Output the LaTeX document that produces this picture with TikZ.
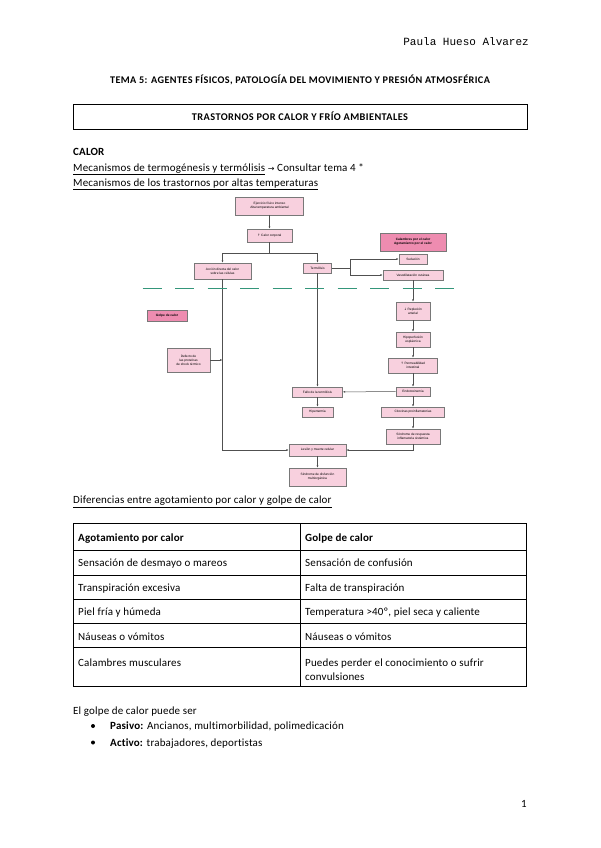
\documentclass[tikz,border=0pt]{standalone}
\usepackage{fontspec}
\setmainfont[LetterSpace=1.5,Ligatures=NoCommon]{Carlito}
\newfontfamily\headf[LetterSpace=4,Ligatures=NoCommon]{Carlito}
\newfontfamily\monof{Liberation Mono}
\newfontfamily\flowf{Liberation Sans}
\newfontfamily\symf{DejaVu Sans}
\usetikzlibrary{arrows.meta}
\definecolor{boxpink}{RGB}{248,208,222}
\definecolor{darkpink}{RGB}{238,140,176}
\definecolor{boxline}{RGB}{120,120,120}
\definecolor{dashgreen}{RGB}{52,150,122}
\definecolor{conn}{RGB}{80,80,80}
\tikzset{
  fbox/.style={draw=boxline, line width=0.6pt, fill=boxpink, inner sep=0pt, align=center,
    font=\flowf\fontsize{3.2}{3.9}\selectfont},
  fboxdark/.style={fbox, fill=darkpink, font=\flowf\bfseries\fontsize{3.2}{3.9}\selectfont},
  arr/.style={draw=conn, line width=0.5pt, -{Latex[length=2.4pt,width=2pt]}},
  ln/.style={draw=conn, line width=0.5pt},
  body/.style={inner sep=0pt, anchor=base west, font=\fontsize{11}{12}\selectfont},
  bodyb/.style={body, font=\bfseries\fontsize{11}{12}\selectfont},
  tline/.style={line width=0.9pt, draw=black}
}
\begin{document}
\begin{tikzpicture}[x=1pt,y=-1pt]
\useasboundingbox[fill=white] (0,0) rectangle (600,848);
% header
\node[inner sep=0pt, anchor=base east, font=\monof\fontsize{11}{12}\selectfont] (author) at (529,46) {Paula Hueso Alvarez};
\node[inner sep=0pt, anchor=base, font=\headf\bfseries\fontsize{10.2}{11}\selectfont] (tema) at (300,84) {TEMA 5: AGENTES FÍSICOS, PATOLOGÍA DEL MOVIMIENTO Y PRESIÓN ATMOSFÉRICA};
\draw[line width=0.9pt] (73,104) rectangle (527,129);
\node[inner sep=0pt, anchor=base, font=\headf\bfseries\fontsize{10.3}{11}\selectfont] (tras) at (300,120.5) {TRASTORNOS POR CALOR Y FRÍO AMBIENTALES};
\node[bodyb] (calor) at (73,155) {CALOR};
\node[body] (mec1) at (73,171) {\underline{Mecanismos de termogénesis y termólisis} {\symf\fontsize{8}{10}\selectfont →} Consultar tema 4 *};
\node[body] (mec2) at (73,186.5) {\underline{Mecanismos de los trastornos por altas temperaturas}};

% flowchart
\node[fbox, minimum width=68pt, minimum height=18pt] (ej) at (269.5,206) {Ejercicio físico intenso\\Alta temperatura ambiental};
\node[fbox, minimum width=45pt, minimum height=13pt] (cc) at (269.5,235.5) {{\symf ↑} Calor corporal};
\node[fbox, minimum width=57pt, minimum height=16pt] (ad) at (222.5,271) {Acción directa del calor\\sobre las células};
\node[fbox, minimum width=28pt, minimum height=10pt] (te) at (317.5,268) {Termólisis};
\node[fboxdark, minimum width=66pt, minimum height=18pt] (cal) at (413,242) {Calambres por el calor\\Agotamiento por el calor};
\node[fbox, minimum width=28pt, minimum height=10pt] (su) at (413,259) {Sudación};
\node[fbox, minimum width=60pt, minimum height=10pt] (va) at (413,275) {Vasodilatación cutánea};
\node[fbox, minimum width=34pt, minimum height=18pt] (rep) at (413,311) {{\symf ↓} Repleción\\arterial};
\node[fboxdark, minimum width=40pt, minimum height=11pt] (gc) at (167,315.5) {Golpe de calor};
\node[fbox, minimum width=43pt, minimum height=24pt] (def) at (188.5,360) {Defecto de\\las proteínas\\de shock térmico};
\node[fbox, minimum width=34pt, minimum height=15pt] (hip) at (413,339.5) {Hipoperfusión\\esplácnica};
\node[fbox, minimum width=49pt, minimum height=15pt] (perm) at (413,365.5) {{\symf ↑} Permeabilidad\\intestinal};
\node[fbox, minimum width=34pt, minimum height=9pt] (endo) at (413,391.5) {Endotoxinemia};
\node[fbox, minimum width=50pt, minimum height=10pt] (fallo) at (317.5,392) {Fallo de la termólisis};
\node[fbox, minimum width=31pt, minimum height=10pt] (hiper) at (317.5,412) {Hipertermia};
\node[fbox, minimum width=63pt, minimum height=10pt] (cit) at (413,412) {Citocinas proinflamatorias};
\node[fbox, minimum width=54pt, minimum height=15pt] (sris) at (413,436.5) {Síndrome de respuesta\\inflamatoria sistémica};
\node[fbox, minimum width=57pt, minimum height=12pt] (les) at (317.5,450) {Lesión y muerte celular};
\node[fbox, minimum width=57pt, minimum height=18pt] (sdm) at (317.5,477) {Síndrome de disfunción\\multiorgánica};

\coordinate (j1) at (269.5,253);
\coordinate (j2) at (350,268);
\coordinate (j3) at (222.5,360);
\draw[arr] (ej) -- (cc);
\draw[ln] (cc) -- (j1);
\draw[arr] (j1) -| (ad.north);
\draw[arr] (j1) -| (te.north);
\draw[ln] (te.east) -- (j2);
\draw[arr] (j2) |- (su.west);
\draw[arr] (j2) |- (va.west);
\draw[arr] (va) -- (rep);
\draw[arr] (rep) -- (hip);
\draw[arr] (hip) -- (perm);
\draw[arr] (perm) -- (endo);
\draw[arr] (endo) -- (cit);
\draw[arr] (cit) -- (sris);
\draw[arr] (endo) -- (fallo);
\draw[arr] (te) -- (fallo);
\draw[arr] (fallo) -- (hiper);
\draw[arr] (ad.south) |- (les.west);
\draw[arr] (def.east) -- (j3);
\draw[arr] (sris.south) |- (les.east);
\draw[arr] (les) -- (sdm);
\draw[dashgreen, line width=1.5pt, dash pattern=on 19pt off 13.5pt] (142.7,288.3) -- (454,288.3);

% table
\node[body] (dif) at (73,503.5) {\underline{Diferencias entre agotamiento por calor y golpe de calor}};
\draw[tline] (73,523.3) rectangle (526.5,686.7);
\foreach \yy in {550,575,599.3,623.3,647.3} {\draw[tline] (73,\yy) -- (526.5,\yy);}
\draw[tline] (300,523.3) -- (300,686.7);
\node[bodyb] (h1) at (78,541) {Agotamiento por calor};
\node[bodyb] (h2) at (305,541) {Golpe de calor};
\node[body] (a1) at (78,566) {Sensación de desmayo o mareos};
\node[body] (b1) at (305,566) {Sensación de confusión};
\node[body] (a2) at (78,591) {Transpiración excesiva};
\node[body] (b2) at (305,591) {Falta de transpiración};
\node[body] (a3) at (78,615.5) {Piel fría y húmeda};
\node[body] (b3) at (305,615.5) {Temperatura >40º, piel seca y caliente};
\node[body] (a4) at (78,640) {Náuseas o vómitos};
\node[body] (b4) at (305,640) {Náuseas o vómitos};
\node[body] (a5) at (78,666) {Calambres musculares};
\node[body] (b5) at (305,666) {Puedes perder el conocimiento o sufrir};
\node[body] (b5b) at (305,680) {convulsiones};

% bottom
\node[body] (gp) at (73,714) {El golpe de calor puede ser};
\fill (93,726) circle (2pt);
\fill (93,742.5) circle (2pt);
\node[body] (pas) at (110,729.5) {\textbf{Pasivo:} Ancianos, multimorbilidad, polimedicación};
\node[body] (act) at (110,746) {\textbf{Activo:} trabajadores, deportistas};
\node[inner sep=0pt, anchor=base east, font=\fontsize{11}{12}\selectfont] (pg) at (527,807) {1};
\end{tikzpicture}
\end{document}
